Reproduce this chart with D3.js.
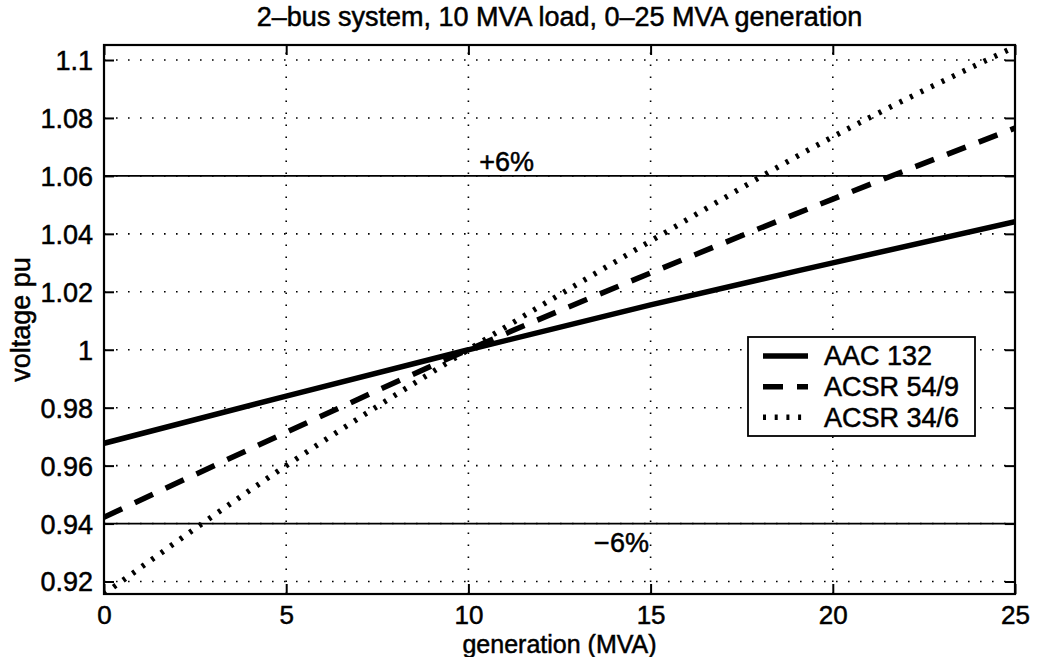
<!DOCTYPE html>
<html>
<head>
<meta charset="utf-8">
<script src="https://cdn.jsdelivr.net/npm/d3@7/dist/d3.min.js"></script>
<style>
  html, body { margin: 0; padding: 0; background: #fff; }
  svg { display: block; }
  text { font-family: "Liberation Sans", Arial, Helvetica, sans-serif; fill: #000; stroke: #000; stroke-width: 0.5px; }
</style>
</head>
<body>
<svg id="chart" width="1039" height="657"></svg>
<script>
// ---- data ----
const generation = [0, 5, 10, 15, 20, 25];
const aac132   = [0.9677, 0.9840, 1.0000, 1.0155, 1.0300, 1.0442];
const acsr549  = [0.9422, 0.9715, 1.0000, 1.0265, 1.0520, 1.0765];
const acsr346  = [0.9157, 0.9600, 1.0000, 1.0375, 1.0735, 1.1046];
const seriesNames = ["AAC 132", "ACSR 54/9", "ACSR 34/6"];
const xTicks = [0, 5, 10, 15, 20, 25];
const yTicks = [0.92, 0.94, 0.96, 0.98, 1.00, 1.02, 1.04, 1.06, 1.08, 1.10];
const yTickLabels = ["0.92", "0.94", "0.96", "0.98", "1", "1.02", "1.04", "1.06", "1.08", "1.1"];
const limits = [0.94, 1.06];
const limitLabels = ["\u22126%", "+6%"];
const titleText = "2\u2013bus system, 10 MVA load, 0\u201325 MVA generation";
const xLabel = "generation (MVA)";
const yLabel = "voltage pu";

// ---- layout ----
const L = 104, R = 1015, T = 45, B = 594;
const FS = 27;
const svg = d3.select("#chart");
const x = d3.scaleLinear().domain([0, 25]).range([L, R]);
const y = d3.scaleLinear().domain([0.91569, 1.10518]).range([B, T]);

svg.append("defs").append("clipPath").attr("id", "clip")
  .append("rect").attr("x", L).attr("y", T).attr("width", R - L).attr("height", B - T);

// grid
const grid = svg.append("g").attr("stroke", "#000").attr("stroke-width", 1.6)
  .attr("stroke-dasharray", "1.6,10.4");
grid.selectAll(".gx").data(xTicks.filter(d => d > 0 && d < 25)).enter().append("line")
  .attr("x1", d => x(d)).attr("x2", d => x(d)).attr("y1", B).attr("y2", T);
grid.selectAll(".gy").data(yTicks).enter().append("line")
  .attr("y1", d => y(d)).attr("y2", d => y(d)).attr("x1", L).attr("x2", R);

// limit lines
svg.append("g").selectAll("line").data(limits).enter().append("line")
  .attr("x1", L).attr("x2", R).attr("y1", d => y(d)).attr("y2", d => y(d))
  .attr("stroke", "#000").attr("stroke-width", 1.8);
svg.append("text").attr("x", x(10.3)).attr("y", y(1.065)).attr("dy", "0.35em")
  .attr("font-size", FS).text(limitLabels[1]);
svg.append("text").attr("x", x(13.45)).attr("y", y(0.9336)).attr("dy", "0.35em")
  .attr("font-size", FS).text(limitLabels[0]);

// series
const styles = [
  { data: aac132, dash: null, w: 5.5 },
  { data: acsr549, dash: "20,14", w: 5.5 },
  { data: acsr346, dash: "3,8.7", w: 5.5 }
];
const line = d3.line().x((d, i) => x(generation[i])).y(d => y(d)).curve(d3.curveMonotoneX);
const lg = svg.append("g").attr("clip-path", "url(#clip)");
styles.forEach(s => {
  lg.append("path").attr("d", line(s.data)).attr("fill", "none")
    .attr("stroke", "#000").attr("stroke-width", s.w)
    .attr("stroke-dasharray", s.dash);
});

// axes box
svg.append("rect").attr("x", L).attr("y", T).attr("width", R - L).attr("height", B - T)
  .attr("fill", "none").attr("stroke", "#000").attr("stroke-width", 2.2);

// axes with inward ticks
const tickLen = 10;
const xAxisB = d3.axisBottom(x).tickValues(xTicks).tickSize(-tickLen).tickFormat(d3.format("d")).tickPadding(12);
const xAxisT = d3.axisTop(x).tickValues(xTicks).tickSize(-tickLen).tickFormat("");
const yAxisL = d3.axisLeft(y).tickValues(yTicks).tickSize(-tickLen).tickPadding(11)
  .tickFormat((d, i) => yTickLabels[i]);
const yAxisR = d3.axisRight(y).tickValues(yTicks).tickSize(-tickLen).tickFormat("");

function styleAxis(g, fs) {
  g.select(".domain").remove();
  g.selectAll(".tick line").attr("stroke", "#000").attr("stroke-width", 2);
  g.selectAll(".tick text").attr("font-size", fs).attr("fill", "#000")
    .attr("font-family", '"Liberation Sans", Arial, Helvetica, sans-serif');
}
svg.append("g").attr("transform", `translate(0,${B})`).call(xAxisB).call(styleAxis, 26)
  .selectAll(".tick text").attr("dy", "0.71em");
svg.append("g").attr("transform", `translate(0,${T})`).call(xAxisT).call(styleAxis, FS);
svg.append("g").attr("transform", `translate(${L},0)`).call(yAxisL).call(styleAxis, FS)
  .selectAll(".tick text").attr("dy", "0.35em");
svg.append("g").attr("transform", `translate(${R},0)`).call(yAxisR).call(styleAxis, FS);

// title and labels
svg.append("text").attr("x", (L + R) / 2).attr("y", 26).attr("text-anchor", "middle")
  .attr("font-size", FS).text(titleText);
svg.append("text").attr("x", (L + R) / 2).attr("y", 653).attr("text-anchor", "middle")
  .attr("font-size", 25).text(xLabel);
svg.append("text").attr("transform", `translate(30,${(T + B) / 2}) rotate(-90)`)
  .attr("text-anchor", "middle").attr("font-size", FS).text(yLabel);

// legend
const lgX = 748, lgY = 337, lgW = 227, lgH = 99;
const leg = svg.append("g");
leg.append("rect").attr("x", lgX).attr("y", lgY).attr("width", lgW).attr("height", lgH)
  .attr("fill", "#fff").attr("stroke", "#000").attr("stroke-width", 1.8);
const rowY = [356, 386.7, 417.3];
styles.forEach((s, i) => {
  leg.append("line").attr("x1", 763).attr("x2", 808).attr("y1", rowY[i]).attr("y2", rowY[i])
    .attr("stroke", "#000").attr("stroke-width", s.w).attr("stroke-dasharray", s.dash);
  leg.append("text").attr("x", 824).attr("y", rowY[i]).attr("dy", "0.35em")
    .attr("font-size", FS).text(seriesNames[i]);
});
</script>
</body>
</html>
